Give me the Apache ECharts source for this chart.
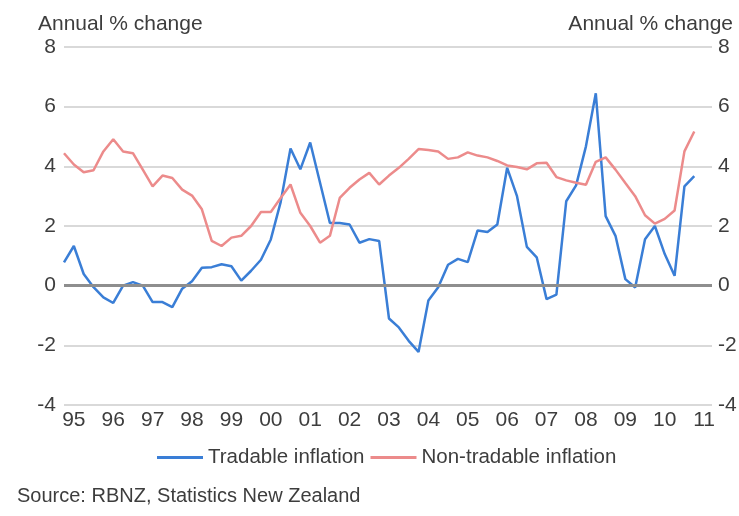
<!DOCTYPE html>
<html>
<head>
<meta charset="utf-8">
<title>Tradable and non-tradable inflation</title>
<script src="https://cdn.jsdelivr.net/npm/echarts@6.0.0/dist/echarts.min.js"></script>
<style>
    html, body { margin: 0; padding: 0; background: #fff; }
    #chart { width: 739px; height: 516px; }
</style>
</head>
<body>
<div id="chart"></div>
<script>
// quarterly, Dec 1994 quarter to Dec 2010 quarter
const firstYear = 1994;
const firstQuarter = 4;

// annual % change
const tradable = [
    0.78, 1.33, 0.39, -0.05, -0.39, -0.58, 0.0, 0.12, 0.0, -0.55,
    -0.55, -0.72, -0.1, 0.15, 0.6, 0.62, 0.72, 0.65, 0.17, 0.5,
    0.87, 1.55, 2.8, 4.6, 3.9, 4.8, 3.45, 2.1, 2.1, 2.05,
    1.44, 1.56, 1.5, -1.1, -1.4, -1.85, -2.22, -0.5, -0.05, 0.7,
    0.9, 0.79, 1.85, 1.8, 2.05, 3.95, 3.0, 1.3, 0.95, -0.45,
    -0.3, 2.83, 3.36, 4.67, 6.45, 2.33, 1.67, 0.22, -0.06, 1.56,
    2.0, 1.06, 0.33, 3.33, 3.67
];
const nonTradable = [
    4.44, 4.06, 3.8, 3.87, 4.5, 4.91, 4.5, 4.44, 3.89, 3.33,
    3.69, 3.61, 3.22, 3.02, 2.56, 1.5, 1.33, 1.61, 1.67, 2.0,
    2.47, 2.47, 2.94, 3.39, 2.44, 2.0, 1.44, 1.67, 2.94, 3.28,
    3.56, 3.78, 3.39, 3.69, 3.95, 4.25, 4.58, 4.55, 4.5, 4.25,
    4.3, 4.47, 4.36, 4.3, 4.18, 4.03, 3.98, 3.9, 4.1, 4.12,
    3.64, 3.53, 3.45, 3.38, 4.15, 4.3, 3.89, 3.44, 3.0, 2.36,
    2.08, 2.24, 2.52, 4.5, 5.17
];
const yearLabels = [1995, 1996, 1997, 1998, 1999, 2000, 2001, 2002, 2003,
    2004, 2005, 2006, 2007, 2008, 2009, 2010, 2011];

const quarters = tradable.map((v, k) => {
    const n = firstQuarter - 1 + k;
    return firstYear + Math.floor(n / 4) + (n % 4) / 4;
});

const font = "Liberation Sans, Arial, sans-serif";
const textColor = "#3d3d3d";

const chart = echarts.init(document.getElementById("chart"));
chart.setOption({
    animation: false,
    backgroundColor: "#fff",
    textStyle: { fontFamily: font },
    title: [
        {
            text: "Annual % change",
            left: 38,
            top: 14,
            padding: 0,
            textStyle: { fontSize: 21, fontWeight: "normal", color: textColor, fontFamily: font },
        },
        {
            text: "Annual % change",
            right: 6,
            top: 14,
            padding: 0,
            textStyle: { fontSize: 21, fontWeight: "normal", color: textColor, fontFamily: font },
        },
        {
            text: "Source: RBNZ, Statistics New Zealand",
            left: 17,
            top: 486,
            padding: 0,
            textStyle: { fontSize: 20, fontWeight: "normal", color: textColor, fontFamily: font },
        },
    ],
    legend: {
        left: 157,
        top: 447,
        padding: 0,
        icon: "rect",
        itemWidth: 46,
        itemHeight: 3,
        itemGap: 6,
        textStyle: { fontSize: 20.5, color: textColor, fontFamily: font },
        data: ["Tradable inflation", "Non-tradable inflation"],
    },
    grid: {
        left: 64,
        right: 27,
        top: 47,
        bottom: 111,
        containLabel: false,
        outerBoundsMode: "none",
    },
    xAxis: {
        type: "value",
        min: firstYear + (firstQuarter - 1) / 4,
        max: 2011.2,
        axisLine: { show: false },
        axisTick: { show: false },
        splitLine: { show: false },
        axisLabel: {
            customValues: yearLabels,
            formatter: (v) => String(Math.round(v)).slice(2),
            fontSize: 21,
            color: textColor,
            margin: 5,
            fontFamily: font,
        },
    },
    yAxis: [
        {
            type: "value",
            min: -4,
            max: 8,
            interval: 2,
            axisLine: { show: false },
            axisTick: { show: false },
            axisLabel: { fontSize: 21, color: textColor, margin: 8, fontFamily: font },
            splitLine: { lineStyle: { color: "#cccccc", width: 1.5 } },
        },
        {
            type: "value",
            position: "right",
            min: -4,
            max: 8,
            interval: 2,
            axisLine: { show: false },
            axisTick: { show: false },
            axisLabel: { fontSize: 21, color: textColor, margin: 6, fontFamily: font },
            splitLine: { show: false },
        },
    ],
    series: [
        {
            name: "Tradable inflation",
            type: "line",
            showSymbol: false,
            color: "#3a7ed6",
            lineStyle: { width: 2.5, color: "#3a7ed6" },
            data: quarters.map((q, k) => [q, tradable[k]]),
            markLine: {
                silent: true,
                symbol: ["none", "none"],
                label: { show: false },
                lineStyle: { color: "#8e8e8e", width: 3, type: "solid" },
                data: [{ yAxis: 0 }],
            },
        },
        {
            name: "Non-tradable inflation",
            type: "line",
            showSymbol: false,
            color: "#ec8b8b",
            lineStyle: { width: 2.5, color: "#ec8b8b" },
            data: quarters.map((q, k) => [q, nonTradable[k]]),
        },
    ],
});
</script>
</body>
</html>
